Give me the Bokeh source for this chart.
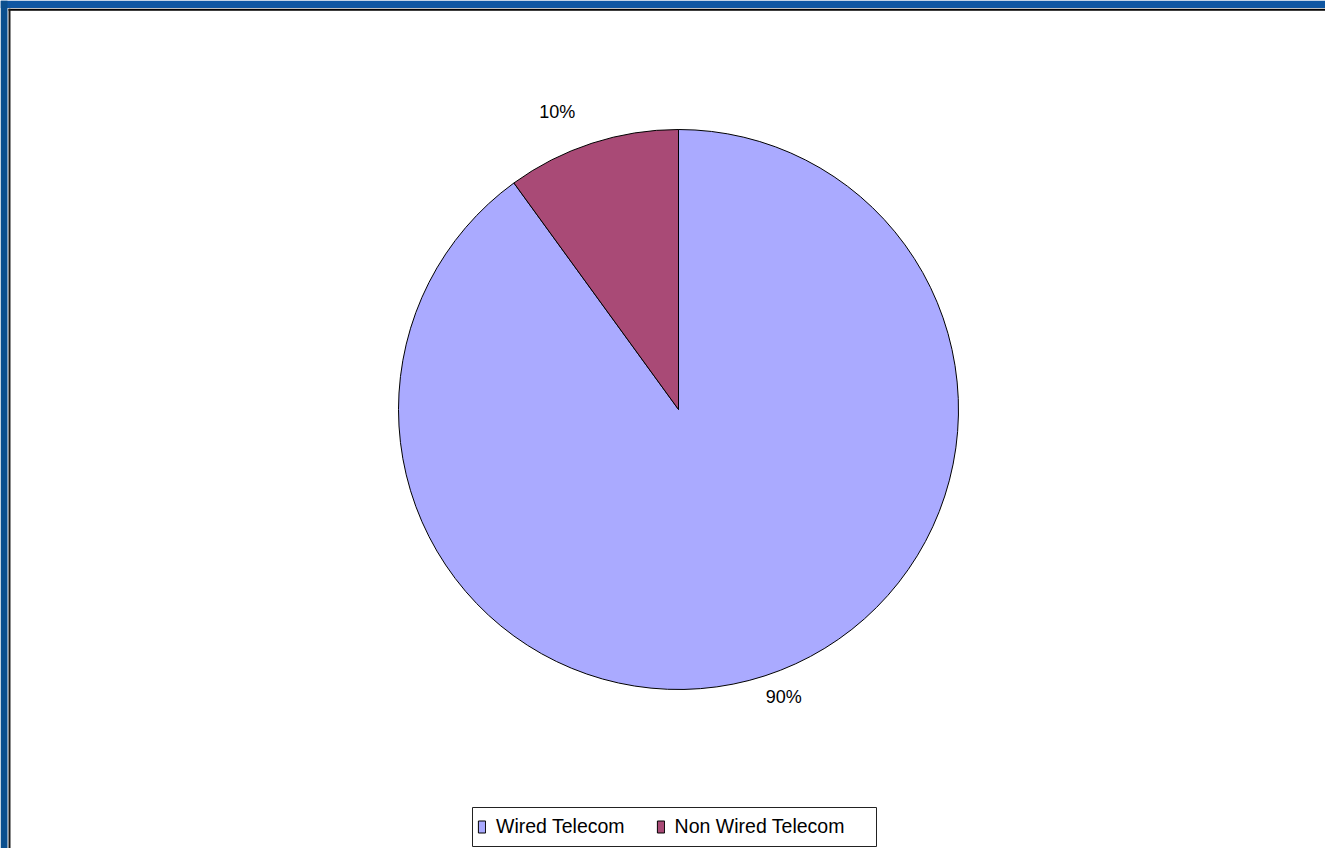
import math
from bokeh.plotting import figure
from bokeh.models import ColumnDataSource, Legend, LegendItem, Range1d
from bokeh.core.properties import value
from bokeh.embed import file_html
from bokeh.resources import INLINE

# ---- data ----
categories = ["Wired Telecom", "Non Wired Telecom"]
shares = [90, 10]
pct_labels = ["90%", "10%"]
colors = ["#AAAAFF", "#A94A76"]

# ---- layout constants ----
W, H = 1325, 848
cx, cy, R = 678, 439, 280
FONT = "Liberation Sans"

total = sum(shares)
starts, ends, mids = [], [], []
cum = 0.0
for s in shares:
    a0 = math.pi / 2 - 2 * math.pi * cum / total
    cum += s
    a1 = math.pi / 2 - 2 * math.pi * cum / total
    starts.append(a0)
    ends.append(a1)
    mids.append((a0 + a1) / 2)

src = ColumnDataSource(dict(cat=categories, start=starts, end=ends, color=colors))

p = figure(width=W, height=H, x_range=Range1d(0, W), y_range=Range1d(0, H),
           output_backend="svg", toolbar_location=None, min_border=0,
           x_axis_type=None, y_axis_type=None)
p.grid.visible = False
p.outline_line_color = None
p.background_fill_color = "white"
p.border_fill_color = "white"

# slide background frame: blue strips and the black chart-area border
p.quad(left=0, right=W, bottom=H - 7.5, top=H, fill_color="#0E56A2", line_color=None)
p.quad(left=0, right=7, bottom=0, top=H, fill_color="#0A4F8E", line_color=None)
p.quad(left=8, right=W, bottom=H - 10.3, top=H - 8.3, fill_color="black", line_color=None)
p.quad(left=8, right=10, bottom=0, top=H - 8.3, fill_color="#1a1a1a", line_color=None)

wedges = p.wedge(x=cx, y=cy, radius=R, start_angle="start", end_angle="end",
                 direction="clock", fill_color="color", line_color="black",
                 line_width=1, source=src)

# percentage labels outside the pie
lx, ly, la = [], [], []
for m in mids:
    lx.append(cx + 1.1 * R * math.cos(m))
    ly.append(cy + 1.1 * R * math.sin(m))
    la.append("left" if math.cos(m) >= 0 else "right")
lab_src = ColumnDataSource(dict(x=lx, y=ly, t=pct_labels, a=la))
p.text(x="x", y="y", text="t", text_align="a", text_baseline="middle",
       x_offset=-8, y_offset=-5,
       text_font=value(FONT), text_font_size="18px", text_color="black",
       source=lab_src)

# legend frame
p.quad(left=472, right=876, bottom=H - 846, top=H - 807,
       fill_color="white", line_color="#222222", line_width=1)

legend = Legend(items=[LegendItem(label=c, renderers=[wedges], index=i)
                       for i, c in enumerate(categories)],
                location=(477, 10), orientation="horizontal", margin=0,
                padding=5, spacing=31, glyph_width=9, glyph_height=15,
                label_standoff=10, label_text_font=FONT,
                label_text_font_size="19.5px", label_text_color="black",
                border_line_color=None, background_fill_alpha=0)
p.add_layout(legend, "center")

open("out.html", "w").write(file_html(p, INLINE))
